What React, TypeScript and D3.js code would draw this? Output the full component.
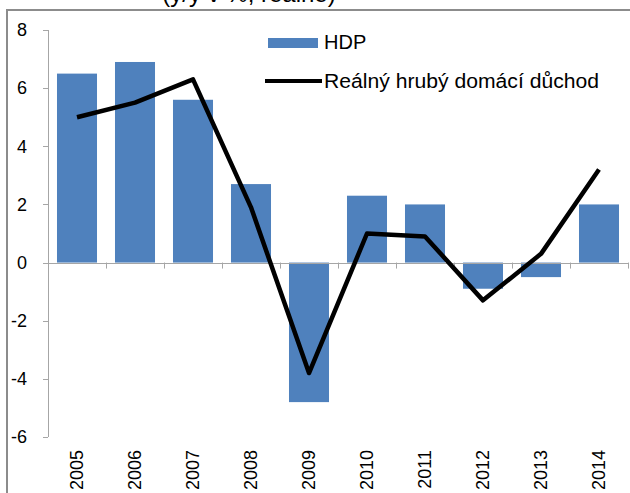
import React from "react";
import * as d3 from "d3";

// data
const years = ["2005", "2006", "2007", "2008", "2009", "2010", "2011", "2012", "2013", "2014"];
const hdp = [6.5, 6.9, 5.6, 2.7, -4.8, 2.3, 2.0, -0.9, -0.5, 2.0];
const rhdd = [5.0, 5.5, 6.3, 1.9, -3.8, 1.0, 0.9, -1.3, 0.3, 3.2];
const yTicks = [-6, -4, -2, 0, 2, 4, 6, 8];

const W = 630;
const H = 493;
const font = "'Liberation Sans', Arial, sans-serif";
const axisCol = "#a6a6a6";

export default function App() {
  const x = d3.scaleBand<string>().domain(years).range([48, 628]);
  const y = d3.scaleLinear().domain([-6, 8]).range([437, 30]);
  const bw = x.bandwidth() * 0.69;
  const cx = (yr: string) => (x(yr) as number) + x.bandwidth() / 2;

  const line = d3
    .line<number>()
    .x((_, i) => cx(years[i]))
    .y((d) => y(d));

  const bounds = years.map((yr) => x(yr) as number).concat([x.range()[1]]);

  return (
    <svg
      width={W}
      height={H}
      style={{ position: "absolute", left: 0, top: 0, background: "#fff" }}
      fontFamily={font}
    >
      {/* title, cut by the top of the picture */}
      <text x={249} y={2} fontSize={24} textAnchor="middle" fill="#000">
        (y/y v %, reálně)
      </text>
      {/* frame */}
      <line x1={6} x2={W} y1={10} y2={10} stroke="#8c8c8c" strokeWidth={2} />
      <line x1={7} x2={7} y1={10} y2={H} stroke="#8c8c8c" strokeWidth={2} />

      {/* bars */}
      {hdp.map((v, i) => (
        <rect
          key={years[i]}
          x={cx(years[i]) - bw / 2}
          y={y(Math.max(0, v))}
          width={bw}
          height={Math.abs(y(v) - y(0))}
          fill="#4f81bd"
        />
      ))}

      {/* y axis */}
      <line x1={48.5} x2={48.5} y1={y(8)} y2={y(-6)} stroke={axisCol} />
      {yTicks.map((t) => (
        <g key={t}>
          <line x1={43} x2={48} y1={Math.round(y(t)) + 0.5} y2={Math.round(y(t)) + 0.5} stroke={axisCol} />
          <text x={27} y={y(t)} dy="0.35em" fontSize={18} textAnchor="end" fill="#000">
            {t}
          </text>
        </g>
      ))}

      {/* x axis at zero */}
      <line x1={48} x2={628} y1={Math.round(y(0)) + 0.5} y2={Math.round(y(0)) + 0.5} stroke={axisCol} />
      {bounds.map((b, i) => (
        <line key={i} x1={b + 0.5} x2={b + 0.5} y1={y(0)} y2={y(0) + 6} stroke={axisCol} />
      ))}
      {years.map((yr) => (
        <text
          key={yr}
          transform={`translate(${cx(yr) + 6},450) rotate(-90)`}
          fontSize={18}
          textAnchor="end"
          fill="#000"
        >
          {yr}
        </text>
      ))}

      {/* line series */}
      <path d={line(rhdd) || ""} fill="none" stroke="#000" strokeWidth={4.5} strokeLinejoin="round" />

      {/* legend */}
      <rect x={268} y={38} width={50} height={10} fill="#4f81bd" />
      <text x={324} y={49} fontSize={20} fill="#000">HDP</text>
      <line x1={265} x2={322} y1={81} y2={81} stroke="#000" strokeWidth={4} />
      <text x={324} y={88} fontSize={20} fill="#000" textLength={275} lengthAdjust="spacingAndGlyphs">
        Reálný hrubý domácí důchod
      </text>
    </svg>
  );
}
